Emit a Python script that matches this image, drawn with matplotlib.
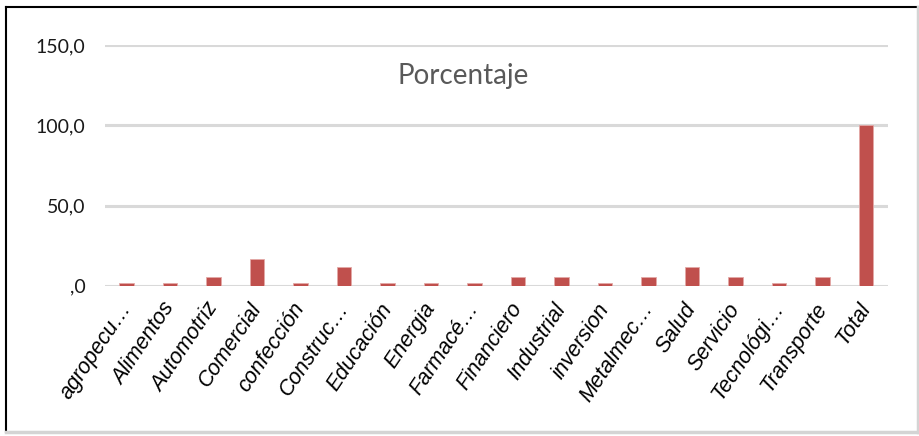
import matplotlib
matplotlib.use("Agg")
import matplotlib.pyplot as plt
from matplotlib.lines import Line2D

sectores = ["agropecu…", "Alimentos", "Automotriz", "Comercial", "confección",
            "Construc…", "Educación", "Energia", "Farmacé…", "Financiero",
            "Industrial", "inversion", "Metalmec…", "Salud", "Servicio",
            "Tecnológi…", "Transporte", "Total"]
porcentaje = [1.7, 1.7, 5.1, 16.9, 1.7, 11.9, 1.7, 1.7, 1.7, 5.1,
              5.1, 1.7, 5.1, 11.9, 5.1, 1.7, 5.1, 100.0]
yticks = [0, 50, 100, 150]
ytick_labels = [",0", "50,0", "100,0", "150,0"]

fig = plt.figure(figsize=(9.2, 4.36), dpi=100)
ax = fig.add_axes([0.114, 0.345, 0.851, 0.551])

x = list(range(len(sectores)))
ax.bar(x, porcentaje, width=0.33, color='#C0504D', edgecolor='#E3A9A7',
       linewidth=0.6, zorder=3)

ax.set_xlim(-0.5, len(sectores) - 0.5)
ax.set_ylim(0, 150)
ax.set_yticks(yticks)
ax.set_yticklabels(ytick_labels, fontsize=14, color='#1a1a1a', family=['Lato', 'DejaVu Sans'])
ax.tick_params(axis='y', length=0, pad=14)
ax.grid(True, axis='y', color='#D9D9D9', linewidth=2.2, zorder=0)
ax.set_xticks(x)
ax.set_xticklabels(sectores, rotation=56, ha='right', va='center', rotation_mode='anchor',
                   fontsize=15.5, style='italic', color='#000000',
                   family=['Liberation Sans', 'DejaVu Sans'])
ax.tick_params(axis='x', length=0, pad=14)
for s in ax.spines.values():
  s.set_visible(False)

fig.text(0.503, 0.826, "Porcentaje", ha='center', va='center', fontsize=20,
         color='#595959', family=['Lato', 'DejaVu Sans'])

# marco de la imagen
fig.add_artist(Line2D([0.007, 0.007], [0.01, 0.985], color='#000000', linewidth=1.5))
fig.add_artist(Line2D([0.007, 0.998], [0.985, 0.985], color='#000000', linewidth=1.5))
fig.add_artist(Line2D([0.998, 0.998], [0.01, 0.985], color='#D4D4D4', linewidth=2.5))
fig.add_artist(Line2D([0.007, 0.998], [0.01, 0.01], color='#D4D4D4', linewidth=2.5))

fig.savefig("out.png", dpi=100)
